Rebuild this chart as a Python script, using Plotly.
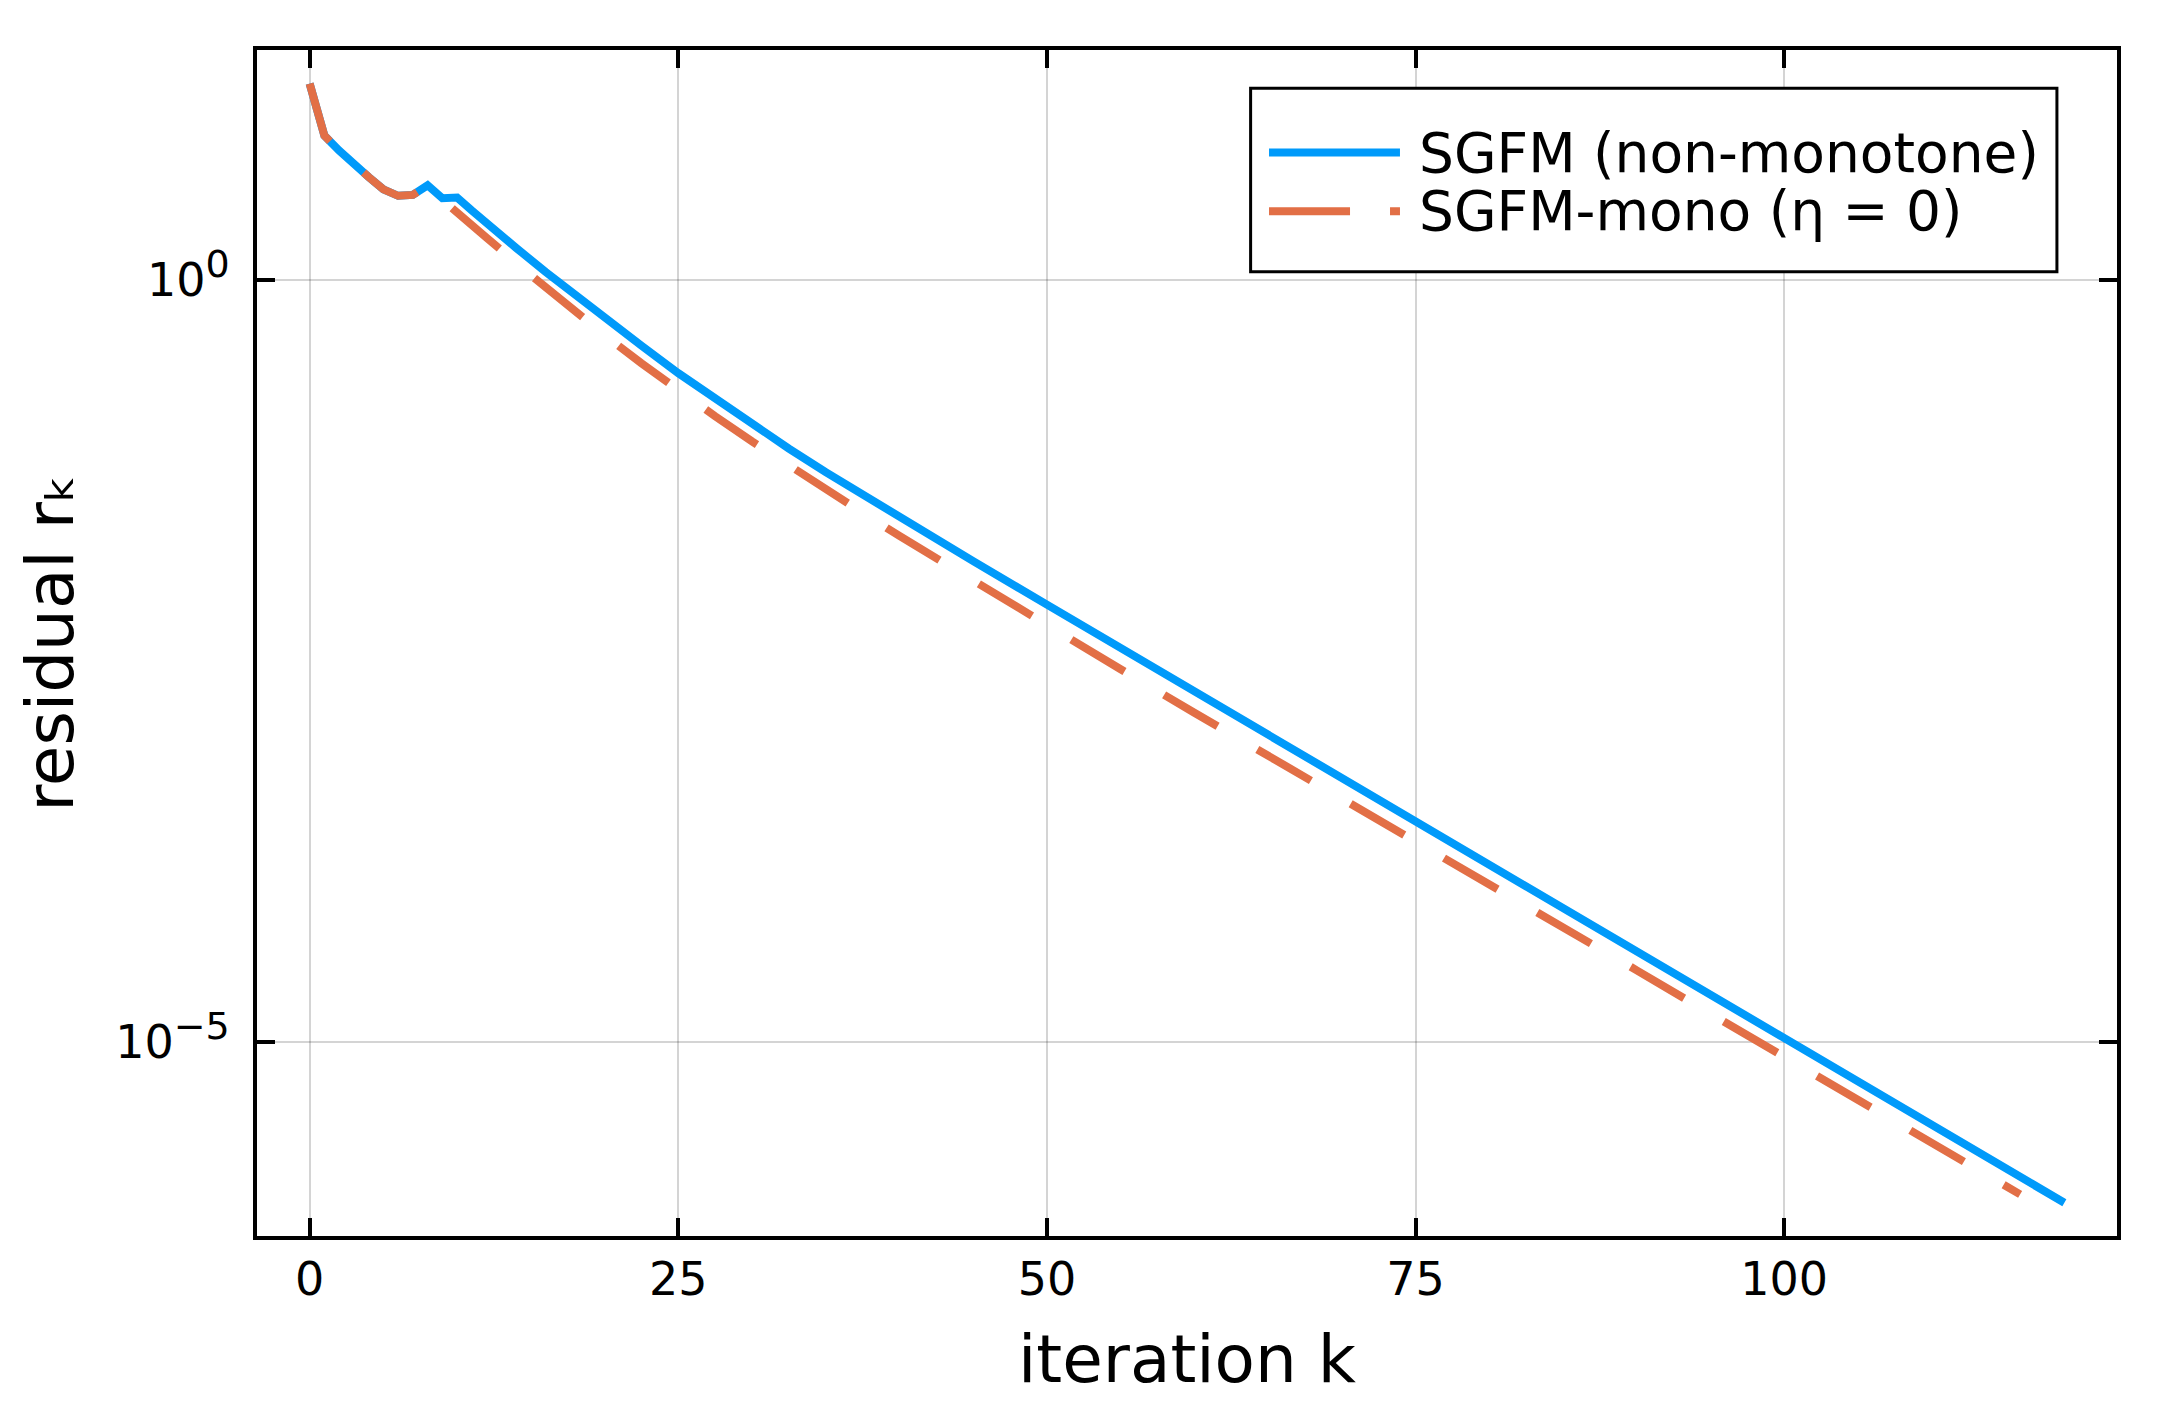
import plotly.graph_objects as go

# ---- data ----
iter_sgfm = [0, 1, 2, 3, 4, 5, 6, 7, 8, 9, 10, 11, 12, 14, 16, 18, 20, 22.5, 25, 27.5,
             30, 32.5, 35, 37.5, 40, 45, 50, 55, 60, 65, 70, 75, 80, 85, 90, 95, 100,
             105, 110, 115, 119]
res_sgfm = [19.4, 8.83, 7.05, 5.69, 4.73, 3.92, 3.56, 3.61, 4.17, 3.43, 3.47, 2.85, 2.333,
            1.622, 1.127, 0.794, 0.560, 0.370, 0.2443, 0.1652, 0.1117, 0.0782, 0.0547,
            0.03895, 0.02773, 0.01429, 0.0074, 0.003846, 0.001995, 0.001035, 0.000537,
            0.000279, 0.0001445, 7.59e-5, 3.94e-5, 2.04e-5, 1.07e-5, 5.56e-6, 2.88e-6,
            1.49e-6, 8.81e-7]

iter_mono = [0, 1, 2, 3, 4, 5, 6, 7, 8, 9, 10, 12, 15, 18, 20, 22.5, 25, 27.5, 30, 32.5,
             35, 37.5, 40, 45, 50, 55, 60, 65, 70, 75, 80, 85, 90, 95, 100, 105, 110,
             115, 116]
res_mono = [19.4, 8.83, 7.05, 5.69, 4.73, 3.92, 3.56, 3.61, 4.17, 3.35, 2.79, 1.89, 1.074,
            0.619, 0.4345, 0.2838, 0.1888, 0.1274, 0.0871, 0.0603, 0.042, 0.02969,
            0.02089, 0.01059, 0.00547, 0.002786, 0.001445, 0.000759, 0.000398, 0.0002065,
            0.000107, 5.62e-5, 2.95e-5, 1.53e-5, 7.94e-6, 4.17e-6, 2.16e-6, 1.13e-6,
            1.0e-6]

x_ticks = [0, 25, 50, 75, 100]
y_ticks = [1e0, 1e-5]
y_tick_text = ["10<sup><span style='font-size:38px'>0</span></sup>",
               "10<sup><span style='font-size:38px'>\u22125</span></sup>"]

series_names = ["SGFM (non-monotone)", "SGFM-mono (\u03b7 = 0)"]
series_colors = ["#009AFA", "#E26F46"]
series_dash = ["solid", "62px,46px"]

FONT = "DejaVu Sans"
LW = 8

fig = go.Figure()
fig.add_trace(go.Scatter(x=iter_sgfm, y=res_sgfm, mode="lines", name=series_names[0],
                         showlegend=False,
                         line=dict(color=series_colors[0], width=LW, dash=series_dash[0])))
fig.add_trace(go.Scatter(x=iter_mono, y=res_mono, mode="lines", name=series_names[1],
                         showlegend=False,
                         line=dict(color=series_colors[1], width=LW, dash=series_dash[1])))

axis_common = dict(showline=True, linecolor="black", linewidth=4, mirror="allticks",
                   ticks="inside", ticklen=18, tickwidth=4, tickcolor="black",
                   showgrid=True, gridcolor="rgba(0,0,0,0.17)", gridwidth=2,
                   zeroline=False, tickfont=dict(family=FONT, size=46, color="black"))

fig.update_xaxes(range=[-3.57, 122.57], tickmode="array", tickvals=x_ticks,
                 title=dict(text="iteration k", font=dict(family=FONT, size=66, color="black"),
                            standoff=32),
                 **axis_common)
fig.update_yaxes(type="log", range=[-6.273, 1.508], tickmode="array", tickvals=y_ticks,
                 ticktext=y_tick_text, ticklabelstandoff=14,
                 title=dict(text="residual r\u2096", font=dict(family=FONT, size=66, color="black"),
                            standoff=21),
                 **axis_common)

# ---- legend (drawn as a framed box in the plot's upper-right corner) ----
leg_x0, leg_x1, leg_y0, leg_y1 = 0.5342, 0.9677, 0.8131, 0.9677
sample_x0, sample_x1, text_x = 0.5441, 0.6145, 0.6235
row_y = [0.9135, 0.8640]
sample_dash = ["solid", "81px,40px"]

shapes = [dict(type="rect", xref="paper", yref="paper", x0=leg_x0, x1=leg_x1,
               y0=leg_y0, y1=leg_y1, line=dict(color="black", width=3),
               fillcolor="white", layer="above")]
annotations = []
for name, color, dash, yy in zip(series_names, series_colors, sample_dash, row_y):
    shapes.append(dict(type="line", xref="paper", yref="paper", x0=sample_x0, x1=sample_x1,
                       y0=yy, y1=yy, line=dict(color=color, width=LW, dash=dash),
                       layer="above"))
    annotations.append(dict(text=name, xref="paper", yref="paper", x=text_x, y=yy,
                            xanchor="left", yanchor="middle", showarrow=False,
                            font=dict(family=FONT, size=55, color="black")))

fig.update_layout(
    width=2167, height=1417, autosize=False,
    margin=dict(l=257, r=50, t=50, b=181, pad=0),
    paper_bgcolor="white", plot_bgcolor="white",
    font=dict(family=FONT, color="black"),
    showlegend=False,
    shapes=shapes, annotations=annotations,
)

fig.write_html("out.html")
